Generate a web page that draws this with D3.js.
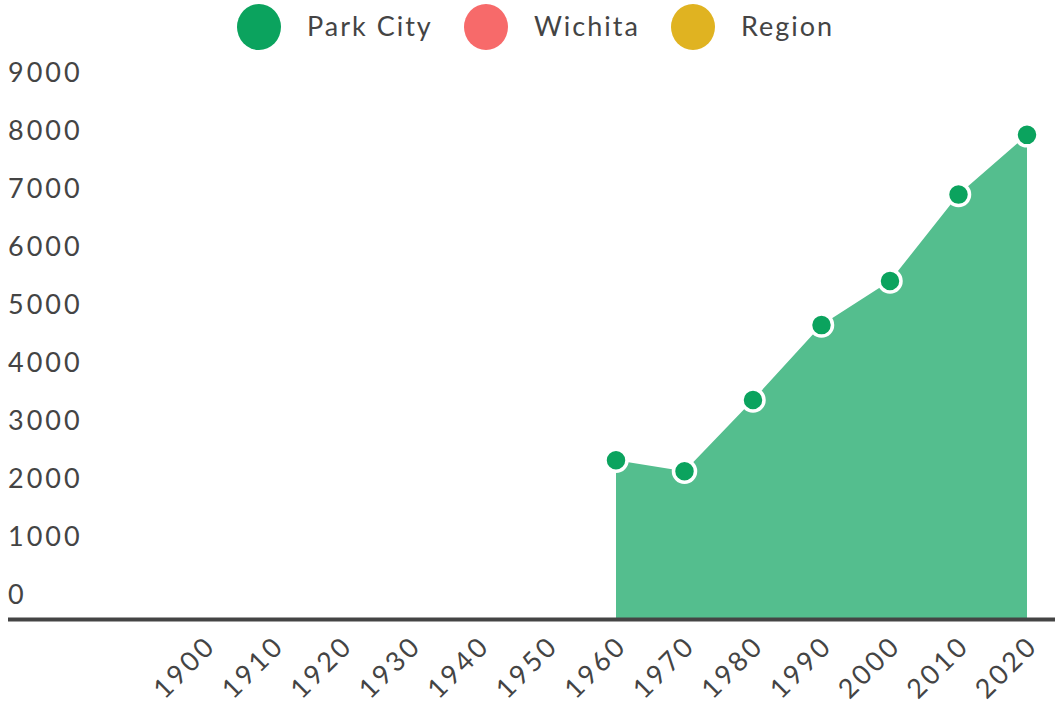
<!DOCTYPE html>
<html>
<head>
<meta charset="utf-8">
<script src="https://cdn.jsdelivr.net/npm/d3@7"></script>
<style>
  html, body { margin: 0; padding: 0; background: #fff; }
  svg text { font-family: "Lato", "Noto Sans", sans-serif; fill: #444; }
</style>
</head>
<body>
<svg id="chart" width="1055" height="706"></svg>
<script>
// Population by census year
const years = [1900, 1910, 1920, 1930, 1940, 1950, 1960, 1970, 1980, 1990, 2000, 2010, 2020];
const parkCityYears = [1960, 1970, 1980, 1990, 2000, 2010, 2020];
const parkCityValues = [2720, 2530, 3760, 5050, 5810, 7300, 8330];
const yTicks = [0, 1000, 2000, 3000, 4000, 5000, 6000, 7000, 8000, 9000];
const legendNames = ["Park City", "Wichita", "Region"];
const legendColors = ["#0ba35e", "#f76a6a", "#e0b321"];

const svg = d3.select("#chart");

const x = d3.scaleLinear().domain([1900, 2020]).range([205, 1027]);
const y = d3.scaleLinear().domain([0, 10000]).range([618, 38]);

const series = parkCityYears.map((yr, i) => ({ year: yr, value: parkCityValues[i] }));

// area
const area = d3.area()
  .x(d => x(d.year))
  .y0(y(0))
  .y1(d => y(d.value));
svg.append("path")
  .datum(series)
  .attr("d", area)
  .attr("fill", "#54be8e");

// y labels sit above their value line
const yAxis = svg.append("g").attr("class", "y-axis");
yAxis.selectAll("text")
  .data(yTicks)
  .join("text")
  .attr("x", 8)
  .attr("y", d => y(d) - 14)
  .attr("font-size", 27)
  .attr("letter-spacing", 3)
  .text(d => d);

// baseline
svg.append("line")
  .attr("x1", 8).attr("x2", 1055)
  .attr("y1", y(0) + 1.5).attr("y2", y(0) + 1.5)
  .attr("stroke", "#444").attr("stroke-width", 4);

// x labels, rotated
const xAxis = svg.append("g").attr("class", "x-axis");
xAxis.selectAll("text")
  .data(years)
  .join("text")
  .attr("text-anchor", "end")
  .attr("font-size", 27)
  .attr("letter-spacing", 3)
  .attr("transform", d => `translate(${x(d) - 1},${634}) rotate(-45)`)
  .attr("dy", "0.7em")
  .text(d => d);

// points
svg.append("g")
  .selectAll("circle")
  .data(series)
  .join("circle")
  .attr("cx", d => x(d.year))
  .attr("cy", d => y(d.value))
  .attr("r", 11)
  .attr("fill", legendColors[0])
  .attr("stroke", "#fff")
  .attr("stroke-width", 3.5);

// legend
const legendX = [259, 486, 693];
const legend = svg.append("g").attr("class", "legend");
const items = legend.selectAll("g")
  .data(legendNames)
  .join("g")
  .attr("transform", (d, i) => `translate(${legendX[i]},27)`);
items.append("ellipse")
  .attr("rx", 22).attr("ry", 23)
  .attr("fill", (d, i) => legendColors[i]);
items.append("text")
  .attr("x", 48)
  .attr("dy", "0.35em")
  .attr("font-size", 27)
  .attr("letter-spacing", 2)
  .text(d => d);
</script>
</body>
</html>
